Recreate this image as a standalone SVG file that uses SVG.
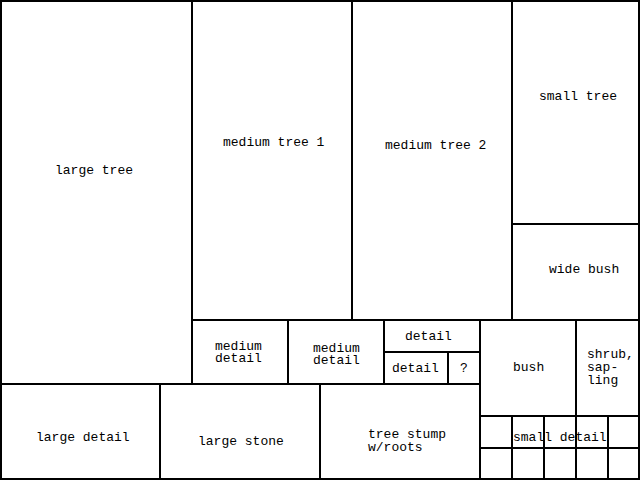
<svg xmlns="http://www.w3.org/2000/svg" width="640" height="480" viewBox="0 0 640 480">
<style>
.b{fill:#fff;stroke:#000;stroke-width:2}
.l{stroke:#000;stroke-width:2;fill:none}
text{font-family:"Liberation Mono","DejaVu Sans Mono",monospace;font-size:13px;fill:#000}
</style>
<rect x="0" y="0" width="640" height="480" fill="#fff"/>
<g id="large-tree"><rect class="b" x="1" y="1" width="191" height="383"/><text x="55" y="174">large tree</text></g>
<g id="medium-tree-1"><rect class="b" x="192" y="1" width="160" height="319"/><text x="223" y="146">medium tree 1</text></g>
<g id="medium-tree-2"><rect class="b" x="352" y="1" width="160" height="319"/><text x="385" y="149">medium tree 2</text></g>
<g id="small-tree"><rect class="b" x="512" y="1" width="127" height="223"/><text x="539" y="100">small tree</text></g>
<g id="wide-bush"><rect class="b" x="512" y="224" width="127" height="96"/><text x="549" y="273">wide bush</text></g>
<g id="medium-detail-1"><rect class="b" x="192" y="320" width="96" height="64"/><text x="215" y="350">medium</text><text x="215" y="362">detail</text></g>
<g id="medium-detail-2"><rect class="b" x="288" y="320" width="96" height="64"/><text x="313" y="352">medium</text><text x="313" y="364">detail</text></g>
<g id="detail-top"><rect class="b" x="384" y="320" width="96" height="32"/><text x="405" y="340">detail</text></g>
<g id="detail-bottom"><rect class="b" x="384" y="352" width="64" height="32"/><text x="392" y="372">detail</text></g>
<g id="unknown"><rect class="b" x="448" y="352" width="32" height="32"/><text x="460" y="372">?</text></g>
<g id="bush"><rect class="b" x="480" y="320" width="96" height="96"/><text x="513" y="371">bush</text></g>
<g id="shrub-sapling"><rect class="b" x="576" y="320" width="63" height="96"/><text x="587" y="358">shrub,</text><text x="587" y="371">sap-</text><text x="587" y="384">ling</text></g>
<g id="large-detail"><rect class="b" x="1" y="384" width="159" height="95"/><text x="36" y="441">large detail</text></g>
<g id="large-stone"><rect class="b" x="160" y="384" width="160" height="95"/><text x="198" y="445">large stone</text></g>
<g id="tree-stump"><rect class="b" x="320" y="384" width="160" height="95"/><text x="368" y="438">tree stump</text><text x="368" y="451">w/roots</text></g>
<g id="small-detail">
<rect class="b" x="480" y="416" width="159" height="63"/>
<path class="l" d="M480 448H640M512 416V480M544 416V480M576 416V480M608 416V480"/>
<text x="513" y="441">small detail</text>
</g>
</svg>
